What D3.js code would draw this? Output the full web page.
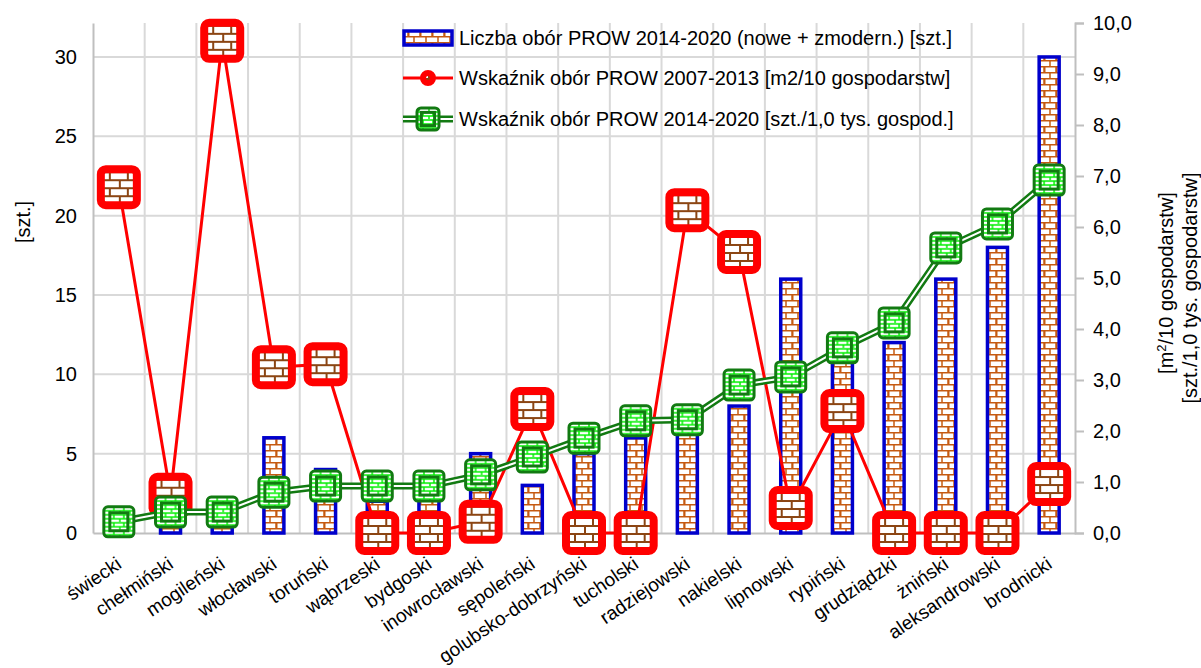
<!DOCTYPE html>
<html><head><meta charset="utf-8">
<script src="https://cdn.jsdelivr.net/npm/d3@7"></script>
<style>
body{margin:0;background:#fff;}
text{font-family:"Liberation Sans",Arial,sans-serif;fill:#000;}
</style></head>
<body><svg id="chart" width="1201" height="668"></svg>
<script>
const categories = ["świecki","chełmiński","mogileński","włocławski","toruński","wąbrzeski","bydgoski","inowrocławski","sępoleński","golubsko-dobrzyński","tucholski","radziejowski","nakielski","lipnowski","rypiński","grudziądzki","żniński","aleksandrowski","brodnicki"];
const liczbaObor2014 = [1,1,1,6,4,2,3,5,3,5,6,8,8,16,11,12,16,18,30];
const wskaznik2007 = [6.78,0.75,9.65,3.25,3.31,0,0,0.22,2.43,0,0,6.33,5.51,0.49,2.39,0,0,0,0.96];
const wskaznik2014 = [0.22,0.41,0.41,0.80,0.92,0.92,0.92,1.14,1.49,1.86,2.2,2.22,2.9,3.06,3.63,4.12,5.59,6.06,6.92];
const leftTicks = [0,5,10,15,20,25,30];
const rightTicks = [0,1,2,3,4,5,6,7,8,9,10];
const seriesNames = ["Liczba obór PROW 2014-2020 (nowe + zmodern.) [szt.]","Wskaźnik obór PROW 2007-2013 [m2/10 gospodarstw]","Wskaźnik obór PROW 2014-2020 [szt./1,0 tys. gospod.]"];

const svg = d3.select("#chart");
const L = 93, R = 1075, T = 23, B = 533;
const FS = "20px";
const x = d3.scaleBand().domain(categories).range([L, R]).paddingInner(0).paddingOuter(0);
const yL = d3.scaleLinear().domain([0, 32.14]).range([B, T]);
const yR = d3.scaleLinear().domain([0, 10]).range([B, T]);
const cx = d => x(d) + x.bandwidth()/2;

const defs = svg.append("defs");
const pb = defs.append("pattern").attr("id","barBrick").attr("patternUnits","userSpaceOnUse").attr("width",12).attr("height",12);
pb.append("rect").attr("width",12).attr("height",12).attr("fill","#fff");
pb.append("path").attr("d","M0,0.75H12M0,6.75H12M6,0V6.75M0.75,6.75V12M12,6.75V12").attr("stroke","#c55a11").attr("stroke-width",1.5).attr("fill","none");
const pr = defs.append("pattern").attr("id","redBrick").attr("patternUnits","userSpaceOnUse").attr("width",18).attr("height",16);
pr.append("rect").attr("width",18).attr("height",16).attr("fill","#fff");
pr.append("path").attr("d","M0,1H18M0,9H18M9,1V9M1,9V16").attr("stroke","#8b4513").attr("stroke-width",2).attr("fill","none");
const pg = defs.append("pattern").attr("id","greenBrick").attr("patternUnits","userSpaceOnUse").attr("width",10).attr("height",8);
pg.append("rect").attr("width",10).attr("height",8).attr("fill","#fff");
pg.append("path").attr("d","M0,1H10M5,1V5M0,5H10M1,5V8").attr("stroke","#00ee00").attr("stroke-width",1.5).attr("fill","none");

// grid
const g = svg.append("g");
g.selectAll(".hg").data(leftTicks.slice(1)).enter().append("line")
  .attr("x1",L).attr("x2",R).attr("y1",d=>yL(d)).attr("y2",d=>yL(d))
  .attr("stroke","#d9d9d9").attr("stroke-width",2);
g.selectAll(".vg").data(categories.slice(1)).enter().append("line")
  .attr("x1",d=>x(d)).attr("x2",d=>x(d)).attr("y1",T).attr("y2",B)
  .attr("stroke","#d9d9d9").attr("stroke-width",2);

// axes
const axL = svg.append("g").attr("transform",`translate(${L},0)`)
  .call(d3.axisLeft(yL).tickValues(leftTicks).tickSize(0).tickPadding(16).tickFormat(d=>d));
const axR = svg.append("g").attr("transform",`translate(${R},0)`)
  .call(d3.axisRight(yR).tickValues(rightTicks).tickSize(9).tickPadding(9).tickFormat(d=>d3.format(".1f")(d).replace(".",",")));
const axB = svg.append("g").attr("transform",`translate(0,${B})`)
  .call(d3.axisBottom(x).tickSize(0).tickFormat(""));
[axL,axR,axB].forEach(a=>{
  a.select(".domain").attr("stroke","#bfbfbf").attr("stroke-width",2);
  a.selectAll(".tick line").attr("stroke","#bfbfbf").attr("stroke-width",2);
  a.selectAll("text").style("font-size",FS).style("font-family","Liberation Sans, Arial, sans-serif").attr("fill","#000");
});

// x labels (drawn beneath the markers)
svg.append("g").selectAll("text").data(categories).enter().append("text")
  .attr("transform",d=>`translate(${cx(d)+4},${567}) rotate(-34)`)
  .attr("text-anchor","end").style("font-size","19px").text(d=>d);

// bars
const bw = 20;
svg.append("g").selectAll("rect").data(categories).enter().append("rect")
  .attr("x",d=>cx(d)-bw/2).attr("width",bw)
  .attr("y",(d,i)=>yL(liczbaObor2014[i])).attr("height",(d,i)=>B-yL(liczbaObor2014[i]))
  .attr("fill","url(#barBrick)").attr("stroke","#0000cc").attr("stroke-width",3.5);

// red line + markers
const redLine = d3.line().x((d,i)=>cx(categories[i])).y(d=>yR(d));
svg.append("path").datum(wskaznik2007).attr("d",redLine).attr("fill","none").attr("stroke","#ff0000").attr("stroke-width",3);
function redMarker(sel, s, sw){
  sel.append("rect").attr("x",-s/2).attr("y",-s/2).attr("width",s).attr("height",s).attr("rx",5)
    .attr("fill","url(#redBrick)").attr("stroke","#ff0000").attr("stroke-width",sw);
}
svg.append("g").selectAll("g").data(wskaznik2007).enter().append("g")
  .attr("transform",(d,i)=>`translate(${cx(categories[i])},${yR(d)})`)
  .each(function(){ redMarker(d3.select(this), 36, 8); });

// green line + markers
const greenLine = d3.line().x((d,i)=>cx(categories[i])).y(d=>yR(d));
svg.append("path").datum(wskaznik2014).attr("d",greenLine).attr("fill","none").attr("stroke","#127a12").attr("stroke-width",7);
svg.append("path").datum(wskaznik2014).attr("d",greenLine).attr("fill","none").attr("stroke","#fff").attr("stroke-width",2);
function greenMarker(sel, s){
  sel.append("rect").attr("x",-s/2).attr("y",-s/2).attr("width",s).attr("height",s).attr("rx",4)
    .attr("fill","url(#greenBrick)").attr("stroke","#127a12").attr("stroke-width",3);
  const t = s*0.6;
  sel.append("rect").attr("x",-t/2).attr("y",-t/2).attr("width",t).attr("height",t)
    .attr("fill","none").attr("stroke","#127a12").attr("stroke-width",3);
}
svg.append("g").selectAll("g").data(wskaznik2014).enter().append("g")
  .attr("transform",(d,i)=>`translate(${cx(categories[i])},${yR(d)})`)
  .each(function(){ greenMarker(d3.select(this), 30); });

// axis titles
svg.append("text").attr("transform","translate(30,222) rotate(-90)").attr("text-anchor","middle").style("font-size",FS).text("[szt.]");
const rt = svg.append("text").attr("transform","translate(1173,283) rotate(-90)").attr("text-anchor","middle").style("font-size",FS);
rt.append("tspan").text("[m");
rt.append("tspan").attr("baseline-shift","super").style("font-size","13px").text("2");
rt.append("tspan").text("/10 gospodarstw]");
svg.append("text").attr("transform","translate(1197,288) rotate(-90)").attr("text-anchor","middle").style("font-size",FS).text("[szt./1,0 tys. gospodarstw]");

// legend
const lg = svg.append("g");
const lx = 403, lw = 50, ty = [38, 78, 119];
lg.append("rect").attr("x",lx+1).attr("y",ty[0]-7).attr("width",lw-2).attr("height",14)
  .attr("fill","url(#barBrick)").attr("stroke","#0000cc").attr("stroke-width",3.5);
lg.append("line").attr("x1",lx).attr("x2",lx+lw).attr("y1",ty[1]).attr("y2",ty[1]).attr("stroke","#ff0000").attr("stroke-width",3);
redMarker(lg.append("g").attr("transform",`translate(${lx+lw/2},${ty[1]})`), 10, 6);
lg.append("line").attr("x1",lx).attr("x2",lx+lw).attr("y1",ty[2]).attr("y2",ty[2]).attr("stroke","#127a12").attr("stroke-width",7);
lg.append("line").attr("x1",lx).attr("x2",lx+lw).attr("y1",ty[2]).attr("y2",ty[2]).attr("stroke","#fff").attr("stroke-width",2);
greenMarker(lg.append("g").attr("transform",`translate(${lx+lw/2},${ty[2]})`), 22);
lg.selectAll(".lt").data(seriesNames).enter().append("text")
  .attr("x",lx+lw+6).attr("y",(d,i)=>ty[i]).attr("dy","0.35em").style("font-size",FS).text(d=>d);
</script></body></html>
